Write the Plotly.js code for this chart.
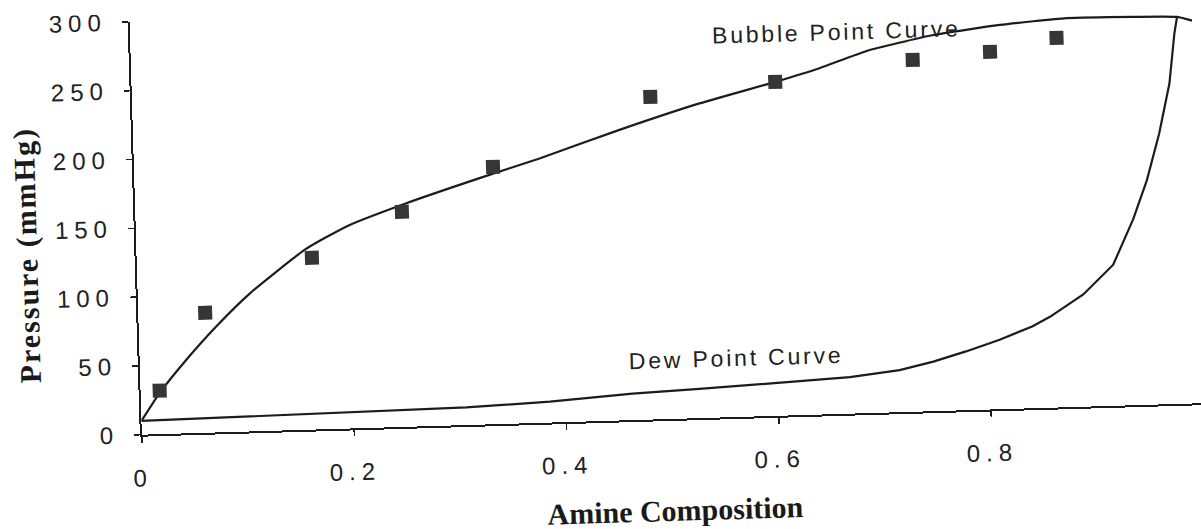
<!DOCTYPE html>
<html>
<head>
<meta charset="utf-8">
<script src="https://cdn.plot.ly/plotly-3.0.1.min.js"></script>
<style>
  html, body { margin: 0; padding: 0; background: #ffffff; overflow: hidden; }
  #chart { width: 1201px; height: 529px; transform: rotate(-1.7deg); transform-origin: 600.5px 264.5px; }
  #chart .xtick text, #chart .ytick text { letter-spacing: 6px; }
  #chart .annotation-text { letter-spacing: 2.8px; }
  #chart .ytitle { letter-spacing: 2px; }
</style>
</head>
<body>
<div id="chart"></div>
<script>
// Measured data (Amine composition vs. pressure, mmHg)
const markerX = [0.018, 0.063, 0.165, 0.251, 0.338, 0.488, 0.606, 0.736, 0.809, 0.872];
const markerP = [31.6, 87.2, 124.8, 156.3, 186.9, 234.3, 242.5, 255.5, 259.7, 268.4];

// Bubble point curve
const bubbleX = [0, 0.018, 0.044, 0.073, 0.106, 0.159, 0.199, 0.256, 0.325, 0.382, 0.458, 0.534, 0.606, 0.648, 0.693, 0.755, 0.819, 0.882, 0.944, 0.986, 1.0];
const bubbleP = [10, 30, 53.5, 77, 100.5, 131, 147, 162.5, 179, 192, 211, 228.5, 242.5, 251.5, 263, 273, 279, 282.5, 282, 281, 278];

// Dew point curve
const dewX = [0, 0.15, 0.25, 0.306, 0.385, 0.463, 0.526, 0.573, 0.621, 0.668, 0.715, 0.747, 0.778, 0.81, 0.841, 0.858, 0.89, 0.919, 0.939, 0.946, 0.953, 0.966, 0.977, 0.983, 0.986];
const dewP = [10, 11.5, 12, 12.8, 15.2, 19.2, 21.2, 22.8, 24.6, 26.5, 30.5, 36, 42.7, 50.5, 59.4, 66, 81.5, 102.5, 135, 149, 163, 197, 233, 269, 281];

// Axis ticks
const xTickVals = [0, 0.2, 0.4, 0.6, 0.8, 1.0];
const xTickText = ["0", "0.2", "0.4", "0.6", "0.8", ""];
const yTickVals = [0, 50, 100, 150, 200, 250, 300];
const yTickText = ["0", "50", "100", "150", "200", "250", "300"];

// Labels
const bubbleLabel = {x: 0.665, y: 277.5, text: "Bubble Point Curve"};
const dewLabel = {x: 0.562, y: 42.5, text: "Dew Point Curve"};
const xTitle = "Amine Composition";
const yTitle = "Pressure (mmHg)";

const ink = "#1c1c1c";

const traces = [
  {
    x: bubbleX, y: bubbleP, type: "scatter", mode: "lines",
    line: {color: ink, width: 2.2, shape: "spline", smoothing: 0.5},
    name: "Bubble Point Curve", showlegend: false, hoverinfo: "x+y"
  },
  {
    x: dewX, y: dewP, type: "scatter", mode: "lines",
    line: {color: ink, width: 2.2},
    name: "Dew Point Curve", showlegend: false, hoverinfo: "x+y"
  },
  {
    x: markerX, y: markerP, type: "scatter", mode: "markers",
    marker: {symbol: "square", size: 14, color: "#363636", line: {width: 0}},
    name: "Experimental", showlegend: false, hoverinfo: "x+y"
  }
];

const tickFont = {family: "Liberation Sans, Arial, sans-serif", size: 24, color: "#222"};
const titleFont = {family: "Liberation Serif, Times New Roman, serif", size: 30, color: "#1a1a1a"};
const labelFont = {family: "Liberation Sans, Arial, sans-serif", size: 23, color: "#222"};

const layout = {
  width: 1201, height: 529,
  margin: {l: 137, r: 2, t: 8, b: 108, pad: 0},
  paper_bgcolor: "#ffffff", plot_bgcolor: "#ffffff",
  showlegend: false,
  xaxis: {
    range: [0, 1.0], tickvals: xTickVals, ticktext: xTickText,
    showline: true, linecolor: ink, linewidth: 2, mirror: false,
    ticks: "outside", ticklen: 6, tickwidth: 1.5, tickcolor: ink,
    showgrid: false, zeroline: false,
    tickfont: tickFont, ticklabelstandoff: 15, ticklabeloverflow: "allow",
    title: {text: "<b>" + xTitle + "</b>", font: titleFont, standoff: 30},
    automargin: false, fixedrange: true
  },
  yaxis: {
    range: [0, 300], tickvals: yTickVals, ticktext: yTickText,
    showline: true, linecolor: ink, linewidth: 2,
    ticks: "outside", ticklen: 6, tickwidth: 1.5, tickcolor: ink,
    showgrid: false, zeroline: false,
    tickfont: tickFont, ticklabelstandoff: 10, ticklabeloverflow: "allow",
    title: {text: "<b>" + yTitle + "\u00a0\u00a0\u00a0\u00a0\u00a0</b>", font: titleFont, standoff: 27},
    automargin: false, fixedrange: true
  },
  annotations: [
    {x: bubbleLabel.x, y: bubbleLabel.y, xref: "x", yref: "y", text: bubbleLabel.text,
     showarrow: false, xanchor: "center", yanchor: "middle", font: labelFont},
    {x: dewLabel.x, y: dewLabel.y, xref: "x", yref: "y", text: dewLabel.text,
     showarrow: false, xanchor: "center", yanchor: "middle", font: labelFont}
  ]
};

Plotly.newPlot("chart", traces, layout, {displayModeBar: false, staticPlot: true});
</script>
</body>
</html>
